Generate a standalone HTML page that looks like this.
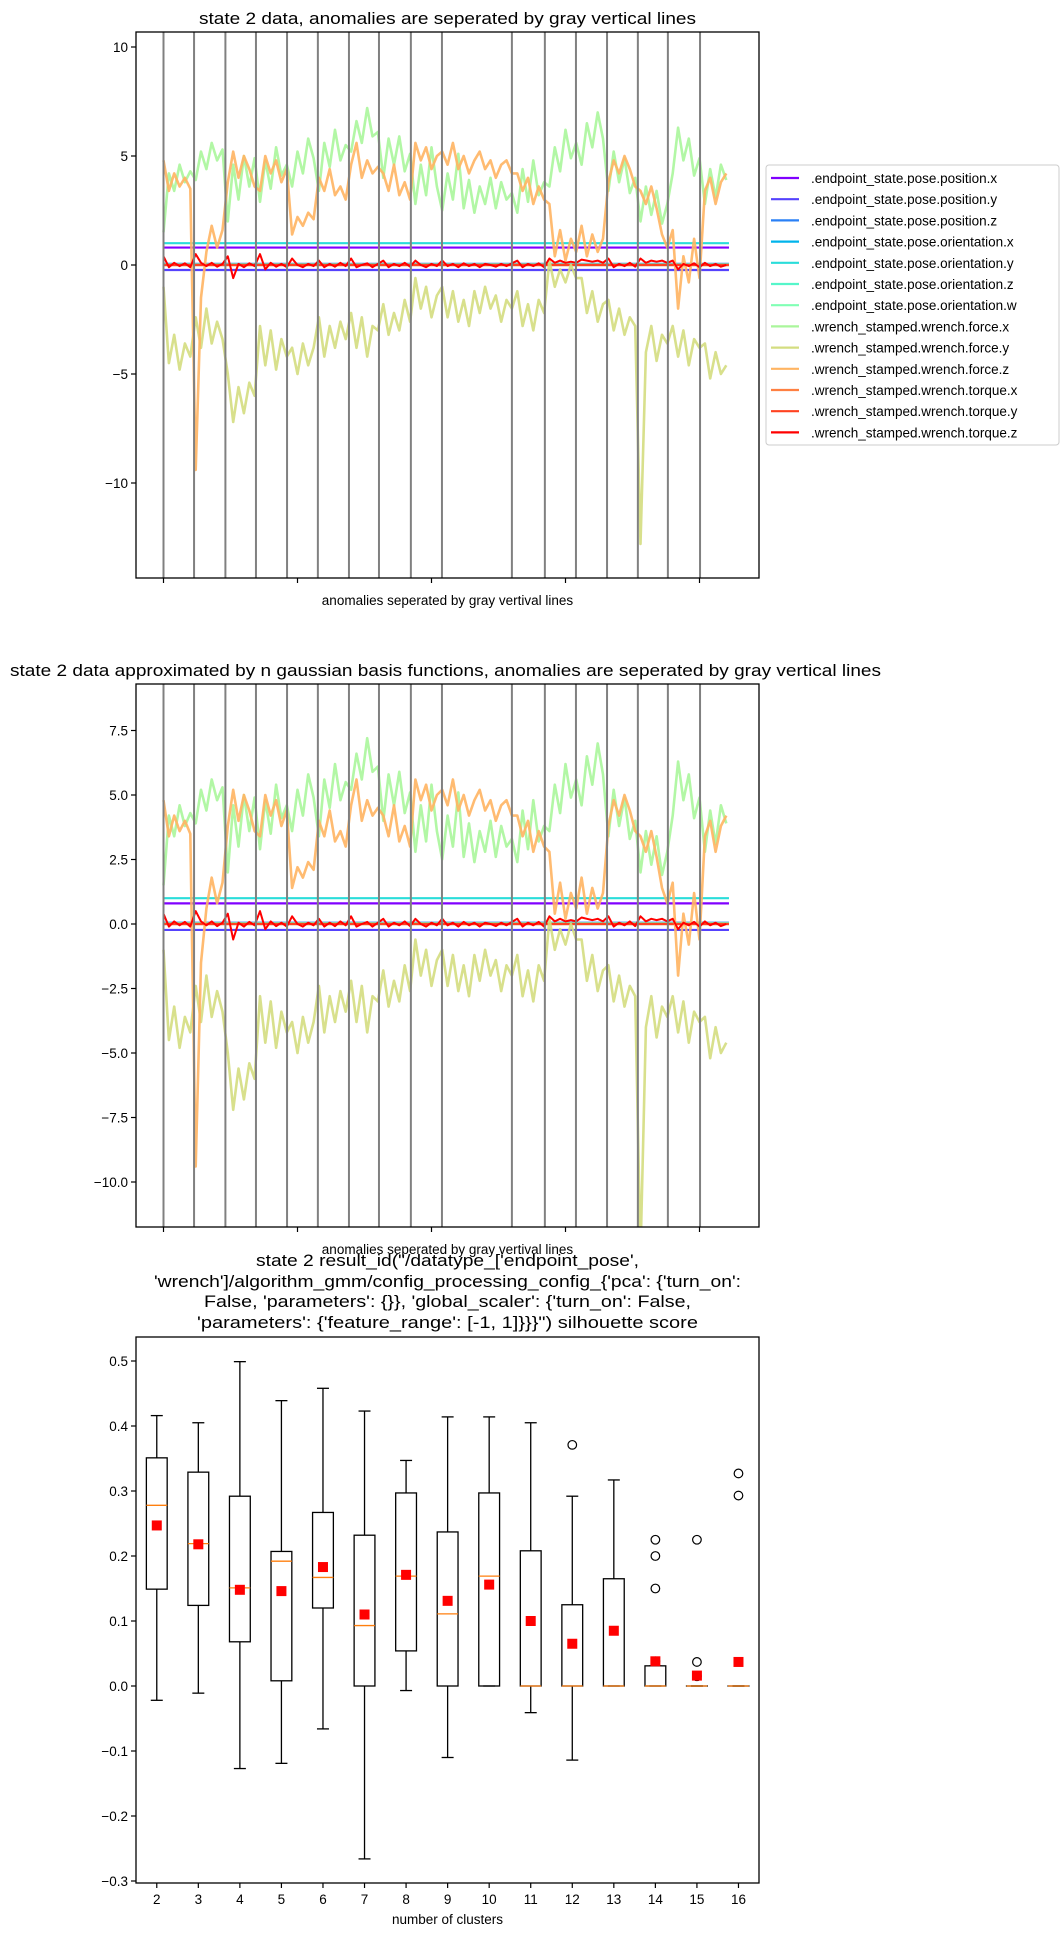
<!DOCTYPE html>
<html><head><meta charset="utf-8"><style>
html,body{margin:0;padding:0;background:#fff;}
svg{display:block;font-family:"Liberation Sans","DejaVu Sans",sans-serif;}
</style></head><body>
<svg id="fig" width="1063" height="1933" viewBox="0 0 1063 1933" xmlns="http://www.w3.org/2000/svg">
<defs>
<clipPath id="c1"><rect x="136" y="32" width="623" height="546"/></clipPath>
<clipPath id="c2"><rect x="136" y="684" width="623" height="543"/></clipPath>
</defs>
<g id="p1"></g>
<g id="p2"></g>
<g id="p3"></g>
</svg>
<script>
// ---- time series data (sample step 20) ----
const forceX = [1.5,4.2,3.4,4.6,3.8,4.3, 3.9,5.2,4.4,5.6,4.8,5.3, 2.0,4.6,3.0,5.0,3.6,4.9, 2.9,4.8,3.5,5.4,4.1,4.6, 3.6,5.2,4.2,5.8,4.9, 3.4,5.6,4.5,6.2,4.8,5.5, 5.2,6.6,5.6,7.2,5.9,6.1, 4.0,5.8,4.6,5.9,4.3,5.1, 2.8,4.6,3.2,5.4,3.6, 2.5,4.2,3.0,5.1,2.6,3.9,2.4,3.6,2.8,4.0,2.6,3.8,3.0,3.3, 2.4,4.4,2.9,4.8,3.2,3.8, 3.6,5.4,4.3,6.2,4.9,5.6, 4.6,6.5,5.4,7.0,5.8, 3.4,5.2,3.8,4.9,3.3,4.0, 2.0,3.6,2.3,3.4,1.9,2.8, 4.2,6.3,4.8,5.8,4.1,4.9, 2.8,4.4,3.1,4.6,3.9];
const forceY = [-1.0,-4.5,-3.2,-4.8,-3.6,-4.2, -2.4,-3.8,-2.0,-3.6,-2.6,-3.4, -5.0,-7.2,-5.6,-6.8,-5.4,-6.0, -2.8,-4.6,-3.0,-4.8,-3.4,-4.2, -3.8,-5.0,-3.6,-4.6,-3.8, -2.4,-4.2,-2.8,-3.8,-2.6,-3.4, -2.2,-3.8,-2.4,-4.2,-2.8,-3.0, -1.8,-3.2,-2.2,-3.0,-1.6,-2.6, -0.6,-2.0,-1.0,-2.4,-1.4, -1.0,-2.4,-1.2,-2.6,-1.6,-2.8,-1.2,-2.2,-1.0,-2.0,-1.4,-2.6,-1.6,-2.0, -1.2,-2.8,-1.8,-3.0,-1.6,-2.2, 0.2,-1.0,-0.2,-0.8,0.0,-0.6, -0.6,-2.2,-1.2,-2.6,-1.8, -1.6,-3.0,-2.0,-3.2,-2.4,-2.8, -12.8,-4.0,-2.8,-4.4,-3.2,-3.6, -2.8,-4.2,-3.0,-4.6,-3.4,-3.8, -3.6,-5.2,-4.0,-5.0,-4.6];
const forceZ = [4.8,3.4,4.2,3.6,4.0,3.5, -9.4,-1.5,0.6,1.8,0.8,1.6, 3.8,5.2,4.0,5.0,4.4,3.6, 3.4,5.0,4.2,4.8,3.8,4.4, 1.4,2.2,1.8,2.4,2.1, 4.0,3.4,4.4,3.2,3.6,3.0, 4.6,5.6,4.0,4.8,4.2,4.5, 4.2,3.4,4.6,3.2,3.8,3.0, 5.6,4.8,5.4,4.4,5.0, 5.2,4.6,5.6,4.4,5.0,4.2,4.8,5.2,4.4,4.8,4.0,4.6,4.8,4.2, 4.2,3.4,4.0,2.8,3.6,3.0, 2.8,0.4,1.6,0.2,1.2,0.6, 1.8,0.4,1.4,0.6,1.2, 3.8,4.8,4.2,5.0,4.4,3.6, 3.4,2.8,3.6,2.6,1.4,0.8, 1.6,-2.0,0.4,-0.8,1.2,-0.6, 3.4,4.0,2.8,3.8,4.2];
const torqueZ = [0.4,-0.1,0.1,-0.05,0.08,-0.1, 0.5,0.1,-0.05,0.1,-0.08,0.05, 0.4,-0.6,0.05,-0.1,0.08,-0.05, 0.5,-0.2,0.1,-0.08,0.05,-0.1, 0.3,0.0,-0.1,0.05,-0.05, 0.2,-0.1,0.05,-0.08,0.1,-0.05, 0.3,-0.1,0.0,0.08,-0.1,0.05, 0.2,-0.1,0.05,-0.05,0.1,-0.08, 0.2,0.0,-0.1,0.05,-0.05, 0.2,-0.05,0.05,-0.1,0.08,-0.05,0.05,-0.1,0.05,0.0,-0.08,0.05,-0.05,0.08, 0.2,-0.1,0.05,-0.05,0.08,-0.1, 0.3,0.1,0.2,0.1,0.15,0.1, 0.25,0.2,0.15,0.2,0.1, 0.3,-0.1,0.05,-0.05,0.1,-0.08, 0.3,0.1,0.2,0.15,0.2,0.1, 0.2,-0.2,0.05,-0.05,0.08,-0.1, 0.1,-0.05,0.05,-0.08,0.0];
const staticNames = ["pos-x","pos-y","pos-z","orient-x","orient-y","orient-z","orient-w","torque-x","torque-y"];
const staticLevels = [0.8,-0.23,0.05,0.02,1.0,0.0,0.03,0.0,0.0];
const anomalyBounds = [0,114,231,345,461,576,692,804,923,1039,1300,1423,1539,1655,1770,1882,2002];
const xTicks = [0,500,1000,1500,2000];
const yTicks1 = [10,5,0,-5,-10];
const yTickLabels1 = ["10","5","0","\u22125","\u221210"];
const yTicks2 = [7.5,5,2.5,0,-2.5,-5,-7.5,-10];
const yTickLabels2 = ["7.5","5.0","2.5","0.0","\u22122.5","\u22125.0","\u22127.5","\u221210.0"];
const legendLabels = [".endpoint_state.pose.position.x",".endpoint_state.pose.position.y",".endpoint_state.pose.position.z",".endpoint_state.pose.orientation.x",".endpoint_state.pose.orientation.y",".endpoint_state.pose.orientation.z",".endpoint_state.pose.orientation.w",".wrench_stamped.wrench.force.x",".wrench_stamped.wrench.force.y",".wrench_stamped.wrench.force.z",".wrench_stamped.wrench.torque.x",".wrench_stamped.wrench.torque.y",".wrench_stamped.wrench.torque.z"];
const colors = ["#8000ff","#5542fd","#2a80f6","#00b4eb","#2addda","#55f6ca","#80ffb4","#aaf69b","#d4dd80","#ffb462","#ff8042","#ff4221","#ff0000"];
// ---- box plot data ----
const clusters = [2,3,4,5,6,7,8,9,10,11,12,13,14,15,16];
const q1 = [0.149,0.124,0.068,0.008,0.120,0.0,0.054,0.0,0.0,0.0,0.0,0.0,0.0,0.0,0.0];
const med = [0.278,0.219,0.151,0.192,0.167,0.093,0.169,0.111,0.169,0.0,0.0,0.0,0.0,0.0,0.0];
const q3 = [0.351,0.329,0.292,0.207,0.267,0.232,0.297,0.237,0.297,0.208,0.125,0.165,0.031,0.0,0.0];
const whisLo = [-0.022,-0.011,-0.127,-0.119,-0.066,-0.266,-0.007,-0.110,0.0,-0.041,-0.114,0.0,0.0,0.0,0.0];
const whisHi = [0.416,0.405,0.499,0.439,0.458,0.423,0.347,0.414,0.414,0.405,0.292,0.317,0.031,0.0,0.0];
const means = [0.247,0.218,0.148,0.146,0.183,0.110,0.171,0.131,0.156,0.100,0.065,0.085,0.038,0.016,0.037];
const fliers = [[],[],[],[],[],[],[],[],[],[],[0.371],[],[0.225,0.200,0.150,0.038],[0.225,0.037,0.015],[0.327,0.293]];
const boxYTicks = [0.5,0.4,0.3,0.2,0.1,0.0,-0.1,-0.2,-0.3];
const boxYLabels = ["0.5","0.4","0.3","0.2","0.1","0.0","\u22120.1","\u22120.2","\u22120.3"];

const NS="http://www.w3.org/2000/svg";
function mk(tag, attrs, parent){const e=document.createElementNS(NS,tag);for(const k in attrs)e.setAttribute(k,attrs[k]);parent.appendChild(e);return e;}
function txt(parent, s, attrs){const e=mk('text',attrs,parent);e.textContent=s;return e;}

const STEP=20;
const xs = v => 163.5 + v*0.268;

function drawTS(g, clipId, top, bot, yZero, ppu, yTicks, yLabels, title, titleAttrs, xlabelY, withLegend){
  const ys = v => yZero - v*ppu;
  const plot = mk('g',{'clip-path':'url(#'+clipId+')'},g);
  staticLevels.forEach((lv,i)=>{
    const ci = i<7? i : i+3;
    const l = mk('line',{x1:xs(0),x2:xs(2110),y1:ys(lv),y2:ys(lv),stroke:colors[ci],'stroke-width':2.2},plot);
    
    
  });
  const series = [[forceX,7,'line-force-x'],[forceY,8,'line-force-y'],[forceZ,9,'line-force-z'],[torqueZ,12,'line-torque-z']];
  series.forEach(([arr,ci,name])=>{
    let d='';
    arr.forEach((v,i)=>{ d += (i?'L':'M') + xs(i*STEP).toFixed(1) + ',' + ys(v).toFixed(1); });
    const p = mk('path',{d:d,fill:'none',stroke:colors[ci],'stroke-width':ci===12?2:2.6,'stroke-linejoin':'round','stroke-opacity':ci===12?1:0.9},plot);
    
    
  });
  anomalyBounds.forEach(b=>{
    const l = mk('line',{x1:xs(b),x2:xs(b),y1:top,y2:bot,stroke:'#808080','stroke-width':2},plot);
    
    
  });
  const frame = mk('rect',{x:136,y:top,width:623,height:bot-top,fill:'none',stroke:'#000','stroke-width':1.3},g);
  
  
  yTicks.forEach((t,i)=>{
    const y = ys(t);
    mk('line',{x1:131,x2:136,y1:y,y2:y,stroke:'#000','stroke-width':1.2},g);
    const tl = txt(g, yLabels[i], {x:128,y:y+5,'text-anchor':'end','font-size':13.5,fill:'#000'});
    
    
  });
  xTicks.forEach(t=>{
    mk('line',{x1:xs(t),x2:xs(t),y1:bot,y2:bot+5,stroke:'#000','stroke-width':1.2},g);
  });
  const tt = txt(g, title, titleAttrs);
  
  
  const xl = txt(g, 'anomalies seperated by gray vertival lines', {x:447.5,y:xlabelY,'text-anchor':'middle','font-size':13.5,fill:'#000'});
  
  
  if(withLegend){
    const lg = mk('g',{},g);
    
    
    mk('rect',{x:766,y:165,width:293,height:280,rx:3,fill:'#fff','fill-opacity':0.8,stroke:'#ccc','stroke-width':1},lg);
    legendLabels.forEach((lab,i)=>{
      const y = 178 + i*21.2;
      const e = mk('g',{},lg);
      
      
      mk('line',{x1:771,x2:799,y1:y,y2:y,stroke:colors[i],'stroke-width':2.2},e);
      txt(e, lab, {x:811,y:y+5,'font-size':13.5,fill:'#000'});
    });
  }
}

drawTS(document.getElementById('p1'),'c1',32,578,265,21.8,yTicks1,yTickLabels1,
  'state 2 data, anomalies are seperated by gray vertical lines',
  {x:447.5,y:24,'text-anchor':'middle','font-size':16.5,fill:'#000',textLength:497,lengthAdjust:'spacingAndGlyphs'},605,true);
drawTS(document.getElementById('p2'),'c2',684,1227,924,25.8,yTicks2,yTickLabels2,
  'state 2 data approximated by n gaussian basis functions, anomalies are seperated by gray vertical lines',
  {x:10,y:676,'font-size':16.5,fill:'#000',textLength:871,lengthAdjust:'spacingAndGlyphs'},1254,false);

// ---- box plot ----
(function(){
  const g = document.getElementById('p3');
  const bx = i => 136 + (i+0.5)*41.55;
  const by = v => 1686 - v*650;
  const titleLines = ["state 2 result_id(\"/datatype_['endpoint_pose',","'wrench']/algorithm_gmm/config_processing_config_{'pca': {'turn_on':","False, 'parameters': {}}, 'global_scaler': {'turn_on': False,","'parameters': {'feature_range': [-1, 1]}}}\") silhouette score"];
  const titleW = [383,587,487,501];
  const titleY = [1266,1287,1307,1328];
  titleLines.forEach((s,i)=>{
    const t = txt(g, s, {x:447.5,y:titleY[i],'text-anchor':'middle','font-size':16.5,fill:'#000',textLength:titleW[i],lengthAdjust:'spacingAndGlyphs'});
    
    
  });
  clusters.forEach((c,i)=>{
    const x = bx(i);
    const grp = mk('g',{},g);
    
    
    mk('line',{x1:x,x2:x,y1:by(whisLo[i]),y2:by(q1[i]),stroke:'#000','stroke-width':1.3},grp);
    mk('line',{x1:x,x2:x,y1:by(q3[i]),y2:by(whisHi[i]),stroke:'#000','stroke-width':1.3},grp);
    mk('line',{x1:x-6,x2:x+6,y1:by(whisLo[i]),y2:by(whisLo[i]),stroke:'#000','stroke-width':1.3},grp);
    mk('line',{x1:x-6,x2:x+6,y1:by(whisHi[i]),y2:by(whisHi[i]),stroke:'#000','stroke-width':1.3},grp);
    mk('rect',{x:x-10.4,y:by(q3[i]),width:20.8,height:Math.max(0.01,by(q1[i])-by(q3[i])),fill:'none',stroke:'#000','stroke-width':1.3},grp);
    mk('line',{x1:x-10.4,x2:x+10.4,y1:by(med[i]),y2:by(med[i]),stroke:'#ff7f0e','stroke-width':1.3},grp);
    fliers[i].forEach(f=>{
      const fc = mk('circle',{cx:x,cy:by(f),r:4.3,fill:'none',stroke:'#000','stroke-width':1.2},grp);
      
      
    });
    const m = mk('rect',{x:x-5,y:by(means[i])-5,width:10,height:10,fill:'#ff0000'},grp);
    
    
    mk('line',{x1:x,x2:x,y1:1883,y2:1888,stroke:'#000','stroke-width':1.2},g);
    const tl = txt(g, String(c), {x:x,y:1904,'text-anchor':'middle','font-size':13.5,fill:'#000'});
    
    
  });
  boxYTicks.forEach((t,i)=>{
    const y = by(t);
    mk('line',{x1:131,x2:136,y1:y,y2:y,stroke:'#000','stroke-width':1.2},g);
    const tl = txt(g, boxYLabels[i], {x:128,y:y+5,'text-anchor':'end','font-size':13.5,fill:'#000'});
    
    
  });
  const fr = mk('rect',{x:136,y:1337,width:623,height:546,fill:'none',stroke:'#000','stroke-width':1.3},g);
  
  
  const xl = txt(g, 'number of clusters', {x:447.5,y:1924,'text-anchor':'middle','font-size':13.5,fill:'#000'});
  
  
})();
</script>
</body></html>
